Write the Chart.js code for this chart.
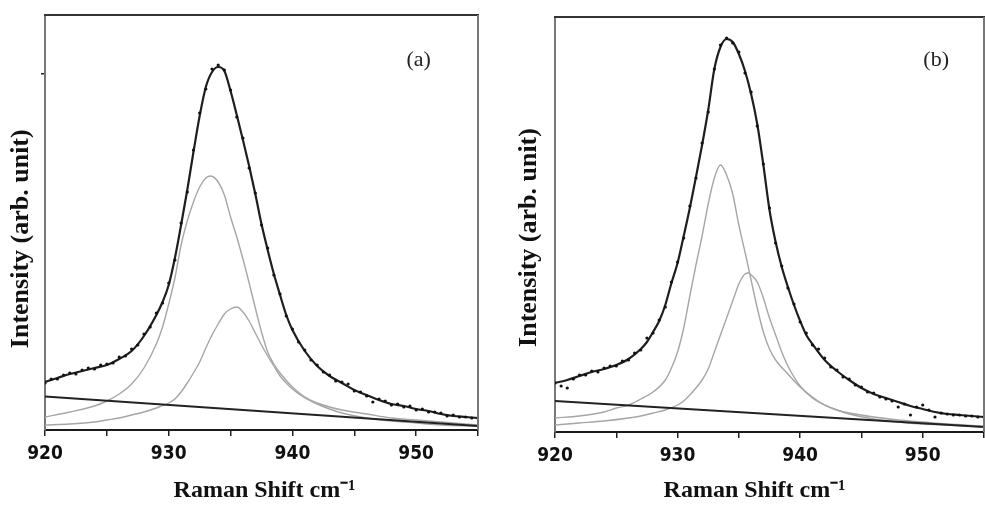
<!DOCTYPE html>
<html>
<head>
<meta charset="utf-8">
<script src="https://cdn.jsdelivr.net/npm/chart.js@4.4.1/dist/chart.umd.min.js"></script>
<style>
  html, body { margin: 0; padding: 0; background: #fff; }
  #wrap { position: relative; width: 985px; height: 508px; overflow: hidden; }
  canvas { position: absolute; top: 0; }
  #chartA { left: 0; }
  #chartB { left: 492px; }
</style>
</head>
<body>
<div id="wrap">
  <canvas id="chartA" width="492" height="508"></canvas>
  <canvas id="chartB" width="499" height="508"></canvas>
</div>
<script>
// x ticks (cm-1), labels only every 10
const xTicks = [920, 925, 930, 935, 940, 945, 950, 955];

// measured Raman shift grid (cm-1)
const measuredShift = [
  920, 920.5, 921, 921.5, 922, 922.5, 923, 923.5, 924, 924.5,
  925, 925.5, 926, 926.5, 927, 927.5, 928, 928.5, 929, 929.5,
  930, 930.5, 931, 931.5, 932, 932.5, 933, 933.5, 934, 934.5,
  935, 935.5, 936, 936.5, 937, 937.5, 938, 938.5, 939, 939.5,
  940, 940.5, 941, 941.5, 942, 942.5, 943, 943.5, 944, 944.5,
  945, 945.5, 946, 946.5, 947, 947.5, 948, 948.5, 949, 949.5,
  950, 950.5, 951, 951.5, 952, 952.5, 953, 953.5, 954, 954.5,
  955
];

// panel (a) - intensity in arb. units
const measuredA = [
  47, 51, 51, 55, 57, 56, 60, 62, 61, 65,
  66, 67, 73, 74, 81, 85, 96, 103, 117, 127,
  147, 170, 207, 238, 280, 317, 341, 361, 365, 360,
  340, 313, 292, 262, 237, 205, 182, 155, 136, 114,
  101, 88, 80, 70, 65, 58, 55, 49, 48, 46,
  39, 38, 34, 28, 31, 29, 25, 26, 23, 24,
  20, 21, 18, 18, 17, 14, 15, 13, 13, 12,
  12
];
const fitA = [
  [920, 48], [921, 52], [922, 56], [923, 59], [924, 62], [925, 65], [926, 71], [927, 79],
  [928, 94], [929, 115], [929.5, 128], [930, 145], [930.5, 172], [931, 205], [931.5, 240],
  [932, 278], [932.5, 314], [933, 343], [933.5, 358], [934, 363], [934.5, 359], [935, 339],
  [935.5, 315], [936, 290], [936.5, 264], [937, 236], [937.5, 206], [938, 180], [938.5, 156],
  [939, 135], [939.5, 115], [940, 100], [941, 79], [942, 64], [943, 54], [944, 47], [945, 40],
  [946, 35], [947, 30], [948, 26], [949, 24], [950, 21], [951, 19], [952, 16], [953, 14],
  [954, 13], [955, 12]
];
const peak1A = [
  [920, 13], [922, 18], [924, 24], [925, 29], [926, 36], [927, 46], [928, 62], [929, 86],
  [929.5, 103], [930, 126], [930.5, 152], [931, 185], [931.5, 209], [932, 228], [932.5, 243],
  [933, 252], [933.4, 254], [934, 248], [934.5, 235], [935, 213], [935.5, 193], [936, 171],
  [936.5, 147], [937, 122], [937.5, 98], [938, 78], [938.5, 66], [939, 57], [940, 43],
  [941, 33], [942, 27], [943, 23], [944, 20], [946, 16], [948, 12], [950, 10], [952, 8], [955, 5]
];
const peak2A = [
  [920, 5], [922, 6], [924, 8], [925, 10], [926, 12], [927, 15], [928, 18], [929, 22],
  [930, 27], [930.5, 31], [931, 38], [931.5, 47], [932, 57], [932.5, 68], [933, 82],
  [933.5, 95], [934, 106], [934.5, 116], [935, 121], [935.5, 123], [936, 118], [936.5, 109],
  [937, 97], [937.5, 85], [938, 74], [938.5, 64], [939, 54], [939.5, 47], [940, 41],
  [941, 32], [942, 26], [943, 21], [944, 17], [946, 12], [948, 9], [950, 7], [952, 5], [955, 4]
];
const baseA = [[920, 33.5], [955, 4]];

// panel (b)
const measuredB = [
  49, 46, 44, 53, 57, 57, 61, 60, 64, 66,
  66, 71, 72, 79, 82, 94, 99, 112, 125, 150,
  170, 194, 226, 254, 289, 320, 363, 387, 394, 389,
  380, 359, 340, 306, 268, 224, 189, 166, 144, 128,
  110, 99, 87, 83, 74, 65, 62, 55, 53, 47,
  45, 40, 39, 35, 33, 31, 25, 28, 17, 25,
  27, 22, 15, 19, 18, 17, 17, 16, 16, 15,
  15
];
const fitB = [
  [920, 49], [921, 52], [922, 56], [923, 60], [924, 63], [925, 67], [926, 73], [927, 83],
  [927.5, 90], [928, 100], [928.5, 111], [929, 127], [929.5, 149], [930, 169], [930.5, 196],
  [931, 224], [931.5, 255], [932, 287], [932.5, 322], [933, 363], [933.5, 385], [934, 393],
  [934.5, 390], [935, 378], [935.5, 361], [936, 338], [936.5, 308], [937, 267], [937.5, 222],
  [938, 190], [938.5, 165], [939, 145], [939.5, 127], [940, 111], [940.5, 97], [941, 88],
  [942, 72], [943, 61], [944, 52], [945, 44], [946, 38], [947, 34], [948, 30], [949, 26],
  [950, 23], [951, 20], [952, 18], [953, 17], [954, 16], [955, 15]
];
const peak1B = [
  [920, 14], [922, 16], [924, 20], [925, 24], [926, 27], [927, 33], [928, 40], [929, 52],
  [929.5, 64], [930, 80], [930.5, 104], [931, 136], [931.5, 167], [932, 196], [932.5, 228],
  [933, 254], [933.5, 267], [934, 257], [934.5, 238], [935, 207], [935.5, 180], [936, 152],
  [936.5, 124], [937, 100], [937.5, 83], [938, 72], [939, 58], [940, 45], [941, 35],
  [942, 27], [943, 22], [944, 18], [946, 13], [948, 10], [950, 8], [952, 7], [955, 5]
];
const peak2B = [
  [920, 7], [922, 9], [924, 11], [926, 14], [927, 16], [928, 19], [929, 22], [930, 27],
  [930.5, 31], [931, 37], [931.5, 44], [932, 52], [932.5, 63], [933, 80], [933.5, 97],
  [934, 114], [934.5, 131], [935, 148], [935.5, 158], [935.8, 159], [936, 157], [936.5, 150],
  [937, 134], [937.5, 114], [938, 97], [938.5, 80], [939, 66], [939.5, 55], [940, 46],
  [941, 34], [942, 27], [943, 22], [944, 19], [946, 15], [948, 12], [950, 10], [952, 8], [955, 6]
];
const baseB = [[920, 31], [955, 5]];

const yTicksA = [356];
const yTicksB = [];

const serif = '"Liberation Serif", "Times New Roman", serif';
const narrow = '"Liberation Sans Narrow", "DejaVu Sans Condensed", "Arial Narrow", sans-serif';
const nb = n => "\u00A0".repeat(n);

const toXY = arr => arr.map(p => ({ x: p[0], y: p[1] }));

// top and right edges of the plot box
const frame = {
  id: 'frame',
  afterDatasetsDraw(chart) {
    const { ctx, chartArea: a } = chart;
    ctx.save();
    ctx.lineWidth = 2;
    ctx.strokeStyle = '#333';
    ctx.beginPath(); ctx.moveTo(a.left - 1, a.top); ctx.lineTo(a.right + 1, a.top); ctx.stroke();
    ctx.strokeStyle = '#777';
    ctx.beginPath(); ctx.moveTo(a.right, a.top); ctx.lineTo(a.right, a.bottom); ctx.stroke();
    ctx.restore();
  }
};

const panelLabel = {
  id: 'panelLabel',
  afterDraw(chart, args, opts) {
    const { ctx, scales } = chart;
    ctx.save();
    ctx.font = '22px ' + serif;
    ctx.fillStyle = '#222';
    ctx.textAlign = 'center';
    ctx.textBaseline = 'middle';
    ctx.fillText(opts.text, scales.x.getPixelForValue(opts.x), scales.y.getPixelForValue(opts.y));
    ctx.restore();
  }
};

function makePanel(id, p) {
  return new Chart(document.getElementById(id), {
    type: 'line',
    data: {
      datasets: [
        { label: 'Measured', data: measuredShift.map((x, i) => ({ x, y: p.measured[i] })),
          showLine: false, pointRadius: 1.6, pointBackgroundColor: '#111', pointBorderWidth: 0 },
        { label: 'Fit', data: toXY(p.fit), borderColor: '#1e1e1e', borderWidth: 2.2,
          pointRadius: 0, cubicInterpolationMode: 'monotone' },
        { label: 'Background', data: toXY(p.base), borderColor: '#222', borderWidth: 2, pointRadius: 0 },
        { label: 'Peak 1', data: toXY(p.peak1), borderColor: '#a6a6a6', borderWidth: 1.4,
          pointRadius: 0, cubicInterpolationMode: 'monotone' },
        { label: 'Peak 2', data: toXY(p.peak2), borderColor: '#a6a6a6', borderWidth: 1.4,
          pointRadius: 0, cubicInterpolationMode: 'monotone' }
      ]
    },
    options: {
      responsive: false,
      animation: false,
      events: [],
      devicePixelRatio: 1,
      layout: { padding: p.padding },
      plugins: {
        legend: { display: false },
        tooltip: { enabled: false },
        panelLabel: p.label
      },
      scales: {
        x: {
          type: 'linear', min: 920, max: 955,
          afterBuildTicks: s => { s.ticks = xTicks.map(v => ({ value: v })); },
          ticks: {
            autoSkip: false, maxRotation: 0, padding: 7, color: '#111',
            font: { family: narrow, size: 19, weight: 'bold' },
            callback: v => (v % 10 === 0 ? String(v) : '')
          },
          grid: { drawOnChartArea: false, tickLength: 6, color: '#222', lineWidth: 1.5 },
          border: { color: '#1a1a1a', width: 2 },
          title: {
            display: true, text: p.xTitle, color: '#111',
            font: { family: serif, size: 24, weight: 'bold' },
            padding: { top: 0, bottom: 3 }
          },
          afterFit: s => { s.height = p.xAxisHeight; }
        },
        y: {
          min: 0, max: 415,
          afterBuildTicks: s => { s.ticks = p.yTicks.map(v => ({ value: v })); },
          ticks: { display: false },
          grid: { drawOnChartArea: false, tickLength: 4, color: '#222', lineWidth: 1.5 },
          border: { color: '#777', width: 2 },
          title: {
            display: true, text: p.yTitle, color: '#111',
            font: { family: serif, size: 26, weight: 'bold' },
            padding: { top: p.yTitlePad, bottom: 0 }
          },
          afterFit: s => { s.width = p.yAxisWidth; }
        }
      }
    },
    plugins: [frame, panelLabel]
  });
}

makePanel('chartA', {
  measured: measuredA, fit: fitA, peak1: peak1A, peak2: peak2A, base: baseA, yTicks: yTicksA,
  padding: { top: 15, right: 14, left: 0, bottom: 0 },
  xAxisHeight: 78, yAxisWidth: 45, yTitlePad: 6,
  xTitle: nb(1) + 'Raman Shift cm\u207B\u00B9',
  yTitle: 'Intensity (arb. unit)' + nb(5),
  label: { text: '(a)', x: 950.2, y: 370 }
});

makePanel('chartB', {
  measured: measuredB, fit: fitB, peak1: peak1B, peak2: peak2B, base: baseB, yTicks: yTicksB,
  padding: { top: 17, right: 1, left: 0, bottom: 0 },
  xAxisHeight: 76, yAxisWidth: 63, yTitlePad: 22,
  xTitle: 'Raman Shift cm\u207B\u00B9' + nb(5),
  yTitle: 'Intensity (arb. unit)' + nb(4),
  label: { text: '(b)', x: 951.1, y: 372 }
});
</script>
</body>
</html>
